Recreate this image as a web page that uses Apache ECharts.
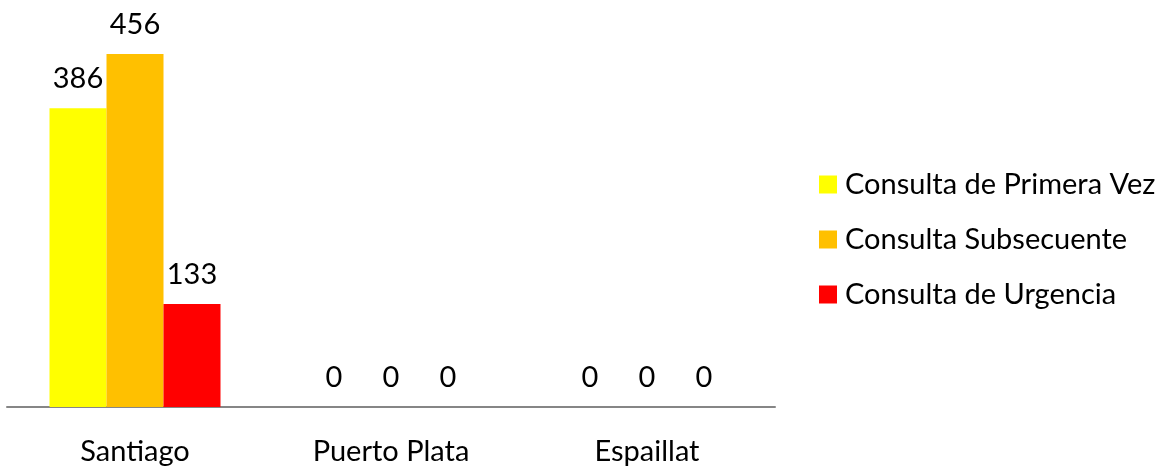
<!DOCTYPE html>
<html>
<head>
<meta charset="utf-8">
<script src="https://cdn.jsdelivr.net/npm/echarts@6/dist/echarts.min.js"></script>
<style>
html,body{margin:0;padding:0;background:#fff;}
#chart{width:1172px;height:466px;}
</style>
</head>
<body>
<div id="chart"></div>
<script>
var categories = ["Santiago", "Puerto Plata", "Espaillat"];
var seriesNames = ["Consulta de Primera Vez", "Consulta Subsecuente", "Consulta de Urgencia"];
var primeraVez = [386, 0, 0];
var subsecuente = [456, 0, 0];
var urgencia = [133, 0, 0];
var colors = ["#ffff00", "#ffc000", "#ff0000"];
var fontName = "Lato";

var chart = echarts.init(document.getElementById("chart"));

function makeSeries(name, data, color){
	return {
		name: name,
		type: 'bar',
		data: data,
		barWidth: 57,
		barGap: '0%',
		itemStyle: {color: color},
		label: {
			show: true,
			position: 'top',
			distance: 15,
			color: '#000',
			fontFamily: fontName,
			fontSize: 29
		}
	};
}

var option = {
	animation: false,
	color: colors,
	grid: {
		left: 7,
		right: 397,
		top: 20,
		bottom: 59
	},
	legend: {
		orient: 'vertical',
		left: 819,
		top: 170,
		padding: 0,
		itemWidth: 18,
		itemHeight: 18,
		itemGap: 26,
		icon: 'rect',
		textStyle: {
			fontFamily: fontName,
			fontSize: 29,
			color: '#000',
			padding: [0, 0, 0, 3]
		},
		data: seriesNames
	},
	xAxis: {
		type: 'category',
		data: categories,
		axisLine: {lineStyle: {color: '#868686', width: 2}},
		axisTick: {show: false},
		axisLabel: {
			margin: 30,
			color: '#000',
			fontFamily: fontName,
			fontSize: 29
		}
	},
	yAxis: {
		type: 'value',
		min: 0,
		max: 500,
		show: false,
		splitLine: {show: false}
	},
	series: [
		makeSeries(seriesNames[0], primeraVez, colors[0]),
		makeSeries(seriesNames[1], subsecuente, colors[1]),
		makeSeries(seriesNames[2], urgencia, colors[2])
	]
};
chart.setOption(option);
</script>
</body>
</html>
